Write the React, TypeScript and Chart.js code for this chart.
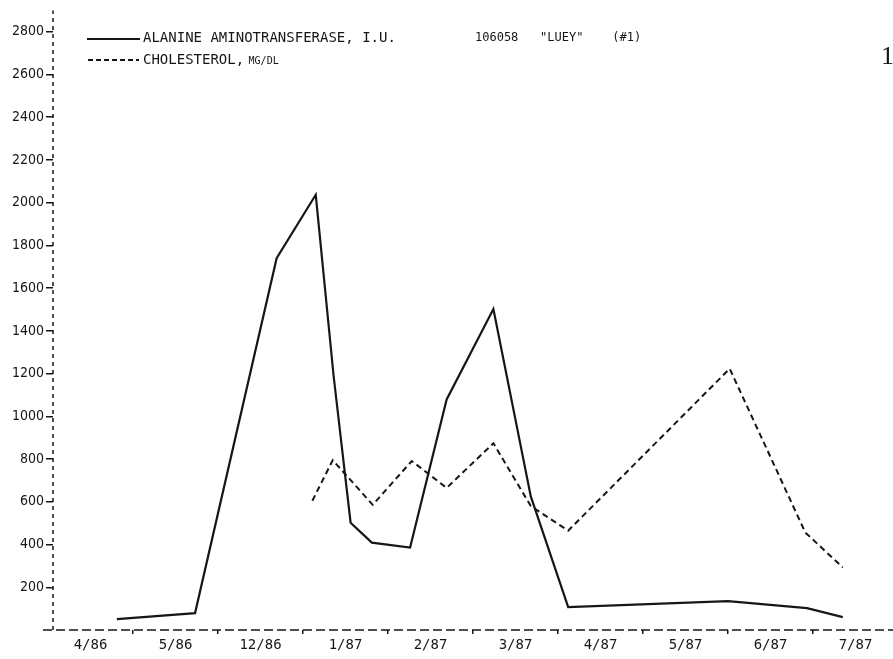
import React, { useEffect, useRef } from 'react';
import { Chart, registerables } from 'chart.js';

Chart.register(...registerables);

// Category (month) labels along the x axis
const categories = ['4/86', '5/86', '12/86', '1/87', '2/87', '3/87', '4/87', '5/87', '6/87', '7/87'];

// Sample positions, in month-slot units (0 = left edge of "4/86" slot)
const altPositions = [0.81, 1.73, 2.69, 3.15, 3.36, 3.56, 3.81, 4.26, 4.69, 5.24, 5.68, 6.12, 8.0, 8.93, 9.35];
const altValues = [51, 79, 1740, 2037, 1190, 502, 409, 386, 1079, 1502, 625, 107, 135, 102, 60];

const cholPositions = [3.11, 3.35, 3.82, 4.28, 4.69, 5.24, 5.68, 6.12, 8.02, 8.91, 9.35];
const cholValues = [605, 795, 586, 791, 665, 874, 580, 465, 1223, 456, 293];

const yTickValues = [200, 400, 600, 800, 1000, 1200, 1400, 1600, 1800, 2000, 2200, 2400, 2600, 2800];

const altLabel = 'ALANINE AMINOTRANSFERASE, I.U.';
const cholLabel = 'CHOLESTEROL, ';
const cholUnit = 'MG/DL';
const titleText = '106058   "LUEY"    (#1)';
const pageNumber = '1';

const INK = '#161616';
const MONO = '"DejaVu Sans Mono", monospace';
const COND = '"DejaVu Sans Condensed", "DejaVu Sans", sans-serif';

const annotations = {
  id: 'annotations',
  afterDraw(chart: any) {
    const { ctx, chartArea } = chart;
    ctx.save();
    ctx.strokeStyle = INK;
    ctx.lineWidth = 1.5;
    // dashed x axis (extends a little left of the y axis)
    ctx.setLineDash([9, 4]);
    ctx.beginPath();
    ctx.moveTo(chartArea.left - 10, chartArea.bottom);
    ctx.lineTo(chartArea.right, chartArea.bottom);
    ctx.stroke();
    // dashed y axis
    ctx.setLineDash([4, 4]);
    ctx.beginPath();
    ctx.moveTo(chartArea.left, chartArea.bottom);
    ctx.lineTo(chartArea.left, chartArea.top);
    ctx.stroke();

    // legend
    const ds = chart.data.datasets;
    ctx.lineWidth = 2;
    ctx.setLineDash([]);
    ctx.beginPath();
    ctx.moveTo(87, 39);
    ctx.lineTo(140, 39);
    ctx.stroke();
    ctx.setLineDash([5, 3]);
    ctx.beginPath();
    ctx.moveTo(88, 60);
    ctx.lineTo(139, 60);
    ctx.stroke();
    ctx.setLineDash([]);

    ctx.fillStyle = INK;
    ctx.textBaseline = 'middle';
    ctx.textAlign = 'left';
    ctx.font = `14px ${MONO}`;
    ctx.fillText(ds[0].label, 143, 38);
    ctx.fillText(cholLabel, 143, 60);
    const w = ctx.measureText(cholLabel).width;
    ctx.font = `10px ${MONO}`;
    ctx.fillText(cholUnit, 143 + w - 4, 61);

    // identification text
    ctx.font = `12px ${MONO}`;
    ctx.fillText(titleText, 475, 38);

    // page number
    ctx.font = '26px "Liberation Serif", "Times New Roman", serif';
    ctx.textBaseline = 'alphabetic';
    ctx.fillText(pageNumber, 881, 64);
    ctx.restore();
  },
};

export default function App() {
  const ref = useRef<HTMLCanvasElement | null>(null);

  useEffect(() => {
    if (!ref.current) return;
    const xMin = (53 - 48) / 85;
    const xMax = (893 - 48) / 85;
    const chart = new Chart(ref.current, {
      type: 'line',
      data: {
        datasets: [
          {
            label: altLabel,
            data: altPositions.map((x, i) => ({ x, y: altValues[i] })),
            borderColor: INK,
            borderWidth: 2.2,
            pointRadius: 0,
            tension: 0,
            fill: false,
          },
          {
            label: cholLabel + cholUnit,
            data: cholPositions.map((x, i) => ({ x, y: cholValues[i] })),
            borderColor: INK,
            borderWidth: 2,
            borderDash: [6, 4],
            pointRadius: 0,
            tension: 0,
            fill: false,
          },
        ],
      },
      options: {
        responsive: false,
        animation: false,
        events: [],
        layout: { padding: { top: 5, right: 0, left: 0, bottom: 0 } },
        plugins: { legend: { display: false }, tooltip: { enabled: false }, title: { display: false } },
        scales: {
          x: {
            type: 'linear',
            min: xMin,
            max: xMax,
            afterBuildTicks: (scale: any) => {
              const t: any[] = [];
              for (let i = 0; i < categories.length; i++) {
                t.push({ value: i + 0.5 });
                if (i + 1 < categories.length) t.push({ value: i + 1 });
              }
              scale.ticks = t;
            },
            afterFit: (scale: any) => {
              scale.height = 29;
            },
            grid: {
              drawOnChartArea: false,
              drawTicks: true,
              tickLength: 4,
              lineWidth: 1.5,
              color: (c: any) =>
                c.tick && Math.abs(c.tick.value - Math.round(c.tick.value)) < 0.01 ? INK : 'rgba(0,0,0,0)',
            },
            border: { display: false },
            ticks: {
              autoSkip: false,
              maxRotation: 0,
              minRotation: 0,
              padding: 3,
              color: INK,
              font: { family: MONO, size: 14 },
              callback: (v: any) => {
                const n = Number(v);
                if (Math.abs(n - Math.round(n)) < 0.01) return '';
                return categories[Math.floor(n)];
              },
            },
          },
          y: {
            type: 'linear',
            min: 0,
            max: 2900,
            afterBuildTicks: (scale: any) => {
              scale.ticks = yTickValues.map((v) => ({ value: v }));
            },
            afterFit: (scale: any) => {
              scale.width = 53;
            },
            grid: {
              drawOnChartArea: false,
              drawTicks: true,
              tickLength: 7,
              lineWidth: 1.5,
              color: INK,
            },
            border: { display: false },
            ticks: {
              padding: 2,
              color: INK,
              font: { family: COND, size: 14 },
              callback: (v: any) => String(v),
            },
          },
        },
      },
      plugins: [annotations],
    } as any);
    return () => chart.destroy();
  }, []);

  return (
    <div style={{ position: 'fixed', left: 0, top: 0, width: 893, height: 659, background: '#fff' }}>
      <canvas ref={ref} width={893} height={659} style={{ display: 'block' }} />
    </div>
  );
}
